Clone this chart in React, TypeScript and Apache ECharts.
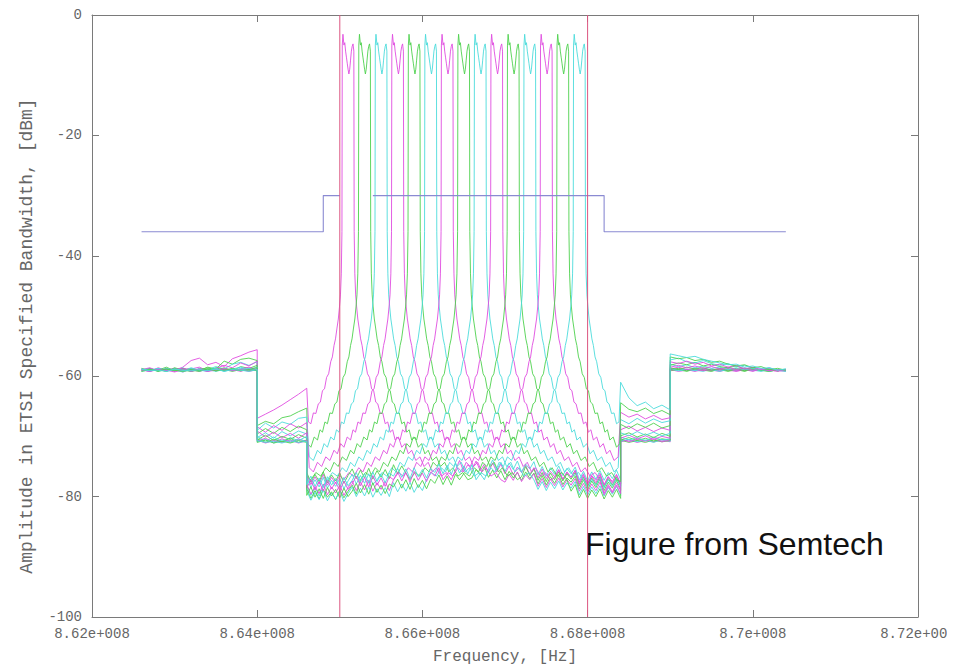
import React, { useEffect, useRef } from 'react';
import * as echarts from 'echarts';

// ---- Channels (MHz) ----
const channelCenters = [865.1, 865.3, 865.5, 865.7, 865.9, 866.1, 866.3, 866.5, 866.7, 866.9, 867.1, 867.3, 867.5, 867.7, 867.9];
const traceColors = ['#e04ee0', '#4fd24f', '#4cdcdc'];

// in-band top shape: offset from channel centre (MHz) and level (dBm)
const topOffsets = [-0.07, -0.062, -0.05, -0.04, -0.03, -0.02, -0.01, 0, 0.01, 0.02, 0.03, 0.04, 0.05, 0.06, 0.07];
const topLevels = [-5, -3.2, -5, -4.6, -6, -7, -8, -9, -9.8, -9, -7.5, -6, -5.2, -4.8, -6];

// skirt: distance from channel edge (MHz) and level (dBm)
const skirtDist = [0.004, 0.012, 0.022, 0.034, 0.048, 0.064, 0.082, 0.1, 0.12, 0.14, 0.165, 0.19, 0.215, 0.24, 0.265, 0.29, 0.32, 0.35, 0.38, 0.41, 0.44, 0.47, 0.5, 0.54, 0.58, 0.62, 0.66, 0.7, 0.75, 0.8, 0.85, 0.9, 0.95, 1.0, 1.06, 1.12, 1.18];
const skirtLevels = [-36, -43, -46.5, -48.5, -50.5, -52, -53.8, -54.9, -56.8, -57.6, -59.6, -60.2, -62.1, -62.4, -64.3, -64.6, -66.2, -66.1, -67.9, -67.6, -69.3, -68.9, -70.6, -70.1, -71.8, -71.2, -72.9, -72.3, -74.0, -73.4, -75.0, -74.3, -75.9, -75.2, -76.6, -76.0, -77.2];

// frequency grids (MHz)
const sideL1Freqs = [862.6, 862.7, 862.8, 862.9, 863.0, 863.1, 863.2, 863.3, 863.4, 863.5, 863.6, 863.7, 863.8, 863.9, 864.0];
const sideL2Freqs = [864.0, 864.1, 864.2, 864.3, 864.4, 864.5, 864.6];
const bandFreqs = [
  864.6, 864.65, 864.7, 864.75, 864.8, 864.85, 864.9, 864.95, 865.0, 865.05, 865.1,
  865.15, 865.2, 865.25, 865.3, 865.35, 865.4, 865.45, 865.5, 865.55, 865.6,
  865.65, 865.7, 865.75, 865.8, 865.85, 865.9, 865.95, 866.0, 866.05, 866.1,
  866.15, 866.2, 866.25, 866.3, 866.35, 866.4, 866.45, 866.5, 866.55, 866.6, 866.65, 866.7, 866.75, 866.8, 866.85,
  866.9, 866.95, 867.0, 867.05, 867.1, 867.15, 867.2, 867.25, 867.3, 867.35,
  867.4, 867.45, 867.5, 867.55, 867.6, 867.65, 867.7, 867.75, 867.8, 867.85,
  867.9, 867.95, 868.0, 868.05, 868.1, 868.15, 868.2, 868.25, 868.3, 868.35, 868.4,
];
const sideR2Freqs = [868.4, 868.5, 868.6, 868.7, 868.8, 868.9, 869.0];
const sideR1Freqs = [869.0, 869.1, 869.2, 869.3, 869.4, 869.5, 869.6, 869.7, 869.8, 869.9, 870.0, 870.1, 870.2, 870.3, 870.4];

const sideL1 = [
  [-58.9, -58.6, -59.1, -58.7, -59.0, -58.5, -57.4, -57.0, -58.1, -57.7, -58.4, -57.1, -56.6, -56.0, -55.6],
  [-58.7, -59.1, -58.8, -59.2, -58.6, -59.0, -58.7, -59.1, -58.5, -58.8, -57.5, -58.0, -57.2, -57.0, -57.4],
  [-59.0, -58.7, -59.2, -58.8, -59.1, -58.6, -59.2, -58.7, -58.9, -58.4, -58.8, -58.0, -57.7, -58.2, -57.6],
  [-58.8, -59.2, -58.6, -59.0, -58.7, -59.3, -58.8, -58.5, -59.1, -58.7, -58.2, -58.6, -57.8, -58.3, -57.5],
  [-59.1, -58.8, -59.0, -58.5, -59.1, -58.8, -59.2, -58.9, -58.6, -59.0, -58.6, -59.1, -58.4, -58.7, -58.2],
  [-58.9, -59.2, -58.7, -59.0, -58.8, -59.1, -58.6, -59.0, -59.2, -58.7, -59.1, -58.8, -58.5, -58.9, -58.5],
  [-59.0, -58.7, -59.1, -58.8, -59.2, -58.7, -58.9, -59.2, -58.8, -59.1, -58.7, -59.0, -58.8, -58.5, -58.9],
  [-58.8, -59.1, -58.9, -59.2, -58.7, -59.0, -59.2, -58.8, -59.1, -58.6, -59.0, -58.7, -59.1, -58.8, -58.6],
  [-59.2, -58.9, -59.1, -58.7, -59.0, -59.3, -58.8, -59.1, -58.9, -59.2, -58.8, -59.1, -58.7, -59.0, -58.8],
  [-58.9, -59.2, -58.8, -59.1, -58.9, -58.7, -59.2, -58.9, -59.2, -58.8, -59.1, -58.9, -59.2, -58.8, -59.0],
  [-59.1, -58.8, -59.2, -58.9, -59.1, -58.8, -59.0, -59.2, -58.8, -59.1, -58.9, -59.2, -58.9, -59.1, -58.8],
  [-58.8, -59.0, -58.7, -59.2, -58.9, -59.1, -58.8, -59.1, -59.0, -58.7, -59.2, -58.8, -59.0, -58.7, -59.1],
  [-59.0, -59.2, -58.9, -59.0, -59.3, -58.9, -59.1, -58.8, -59.2, -59.0, -58.8, -59.1, -58.9, -59.2, -58.9],
  [-59.2, -58.9, -59.1, -58.8, -59.0, -59.2, -58.9, -59.1, -58.8, -59.1, -59.0, -58.8, -59.1, -58.9, -59.1],
  [-58.9, -59.1, -59.0, -59.2, -58.8, -59.0, -59.1, -58.9, -59.1, -58.8, -59.2, -58.9, -59.0, -59.2, -58.9],
];

const sideL2 = [
  [-67.0, -66.3, -65.6, -64.8, -63.9, -63.0, -62.0],
  [-68.2, -67.5, -67.9, -66.9, -66.6, -65.9, -65.3],
  [-69.0, -67.8, -68.6, -67.6, -68.0, -67.0, -66.8],
  [-68.4, -69.3, -68.2, -69.0, -67.9, -68.6, -67.7],
  [-69.6, -68.7, -69.5, -68.5, -69.2, -68.3, -68.9],
  [-70.2, -69.4, -70.3, -69.2, -69.9, -69.1, -69.6],
  [-69.1, -70.1, -69.3, -70.2, -69.5, -70.3, -69.4],
  [-70.6, -69.8, -70.7, -70.0, -70.5, -69.7, -70.3],
  [-70.0, -70.8, -70.1, -70.9, -70.2, -70.7, -70.0],
  [-70.8, -70.3, -71.0, -70.4, -70.9, -70.5, -70.8],
  [-70.4, -71.0, -70.5, -70.9, -70.3, -71.0, -70.6],
  [-70.9, -70.5, -71.1, -70.6, -71.0, -70.4, -70.9],
  [-70.6, -71.1, -70.7, -71.0, -70.6, -71.1, -70.7],
  [-71.0, -70.6, -71.1, -70.8, -71.1, -70.7, -71.0],
  [-70.7, -71.0, -70.8, -71.1, -70.7, -71.0, -70.8],
];

// noise floor inside 864.6-868.4 MHz, one row per trace, on bandFreqs
const bandFloor = [
  [-76.2, -77.9, -76.8, -78.1, -76.5, -77.6, -76.1, -77.8, -77.0, -78.2, -76.4,
   -75.5, -77.3, -76.0, -77.5, -75.9, -76.8, -75.3, -77.1, -76.2, -77.4,
   -74.8, -76.5, -75.2, -76.7, -74.6, -76.1, -75.0, -76.4, -74.9, -76.3,
   -74.2, -75.8, -74.5, -76.0, -74.3, -75.6, -74.0, -75.9, -74.7, -75.5, -74.1, -75.7, -74.6, -76.0, -74.4,
   -75.9, -74.6, -76.2, -74.9, -76.4, -75.1, -76.0, -74.8, -76.3, -75.2,
   -76.9, -75.4, -77.0, -75.8, -76.7, -75.5, -77.2, -76.0, -76.8, -75.6,
   -77.6, -76.2, -77.8, -76.5, -77.3, -76.1, -78.0, -76.7, -77.5, -76.3, -77.9],
  [-77.1, -78.9, -77.6, -78.5, -77.0, -79.1, -77.8, -78.6, -77.3, -79.0, -77.9,
   -76.5, -78.3, -77.0, -78.1, -76.6, -77.9, -76.8, -78.4, -76.9, -77.7,
   -75.8, -77.4, -76.0, -77.6, -75.7, -77.1, -76.2, -77.5, -75.9, -77.0,
   -75.2, -76.8, -75.4, -76.9, -75.1, -76.6, -75.6, -76.7, -75.3, -76.9, -75.5, -76.4, -75.0, -76.8, -75.6,
   -76.9, -75.7, -77.2, -75.8, -76.9, -76.0, -77.3, -75.9, -77.0, -76.1,
   -77.9, -76.5, -78.1, -76.7, -77.8, -76.4, -78.0, -76.9, -77.6, -76.6,
   -78.7, -77.2, -78.9, -77.4, -78.5, -77.1, -79.0, -77.6, -78.6, -77.3, -78.8],
  [-75.6, -77.3, -76.0, -77.2, -75.4, -76.9, -75.8, -77.5, -76.1, -76.8, -75.5,
   -75.0, -76.7, -75.3, -76.5, -74.9, -76.2, -75.4, -76.8, -75.1, -76.4,
   -74.3, -75.9, -74.6, -75.8, -74.2, -75.6, -74.8, -76.0, -74.5, -75.7,
   -73.7, -75.2, -73.9, -75.4, -73.6, -75.1, -74.0, -75.3, -73.8, -75.0, -73.5, -75.2, -74.1, -75.4, -73.9,
   -75.6, -74.3, -75.8, -74.4, -75.5, -74.1, -75.9, -74.6, -75.4, -74.2,
   -76.4, -75.0, -76.6, -75.2, -76.3, -74.9, -76.5, -75.3, -76.2, -75.1,
   -77.2, -75.8, -77.4, -75.9, -77.1, -75.7, -77.3, -76.0, -77.0, -75.6, -77.2],
  [-77.8, -79.4, -78.1, -79.6, -77.9, -79.2, -78.4, -79.5, -77.7, -79.3, -78.2,
   -77.2, -78.6, -77.5, -78.9, -77.0, -78.7, -77.4, -78.5, -77.1, -78.8,
   -76.4, -77.9, -76.6, -78.0, -76.3, -77.8, -76.7, -77.6, -76.2, -77.9,
   -75.8, -77.2, -76.0, -77.4, -75.7, -77.1, -76.1, -77.3, -75.9, -77.0, -75.6, -77.3, -76.0, -77.2, -75.8,
   -77.4, -76.1, -77.6, -76.3, -77.3, -75.9, -77.5, -76.4, -77.2, -76.2,
   -78.3, -77.0, -78.5, -77.1, -78.2, -76.9, -78.4, -77.2, -78.1, -77.0,
   -79.1, -77.8, -79.3, -77.9, -79.0, -77.6, -79.4, -78.0, -79.2, -77.7, -79.0],
  [-76.7, -78.3, -77.0, -78.4, -76.6, -78.1, -77.2, -78.5, -76.8, -78.2, -77.1,
   -76.1, -77.7, -76.3, -77.6, -76.0, -77.8, -76.4, -77.5, -76.2, -77.4,
   -75.4, -76.9, -75.6, -76.8, -75.3, -77.0, -75.7, -76.7, -75.2, -76.9,
   -74.8, -76.3, -75.0, -76.2, -74.7, -76.4, -75.1, -76.1, -74.9, -76.3, -74.6, -76.2, -75.0, -76.4, -74.8,
   -76.5, -75.2, -76.6, -75.1, -76.4, -75.3, -76.7, -75.0, -76.5, -75.4,
   -77.3, -76.0, -77.5, -76.1, -77.2, -75.9, -77.4, -76.2, -77.1, -76.0,
   -78.2, -76.8, -78.3, -76.9, -78.0, -76.7, -78.4, -77.0, -78.1, -76.8, -78.2],
  [-78.2, -79.8, -78.5, -79.9, -78.3, -79.6, -78.7, -80.0, -78.4, -79.7, -78.6,
   -77.6, -79.1, -77.9, -79.2, -77.5, -79.0, -77.8, -79.3, -77.6, -78.9,
   -76.9, -78.3, -77.1, -78.4, -76.8, -78.2, -77.2, -78.5, -76.9, -78.1,
   -76.3, -77.8, -76.5, -77.7, -76.2, -77.9, -76.6, -77.6, -76.4, -77.8, -76.1, -77.7, -76.5, -77.9, -76.3,
   -77.9, -76.7, -78.1, -76.6, -77.8, -76.8, -78.2, -76.5, -77.9, -76.9,
   -78.8, -77.5, -79.0, -77.6, -78.7, -77.4, -78.9, -77.7, -78.6, -77.5,
   -79.7, -78.3, -79.8, -78.4, -79.5, -78.2, -79.9, -78.5, -79.6, -78.3, -79.8],
  [-76.4, -78.0, -76.7, -77.9, -76.3, -78.1, -76.8, -77.8, -76.5, -78.2, -76.9,
   -75.8, -77.4, -76.0, -77.3, -75.7, -77.5, -76.1, -77.2, -75.9, -77.4,
   -75.1, -76.6, -75.3, -76.5, -75.0, -76.7, -75.4, -76.4, -74.9, -76.6,
   -74.5, -76.0, -74.7, -75.9, -74.4, -76.1, -74.8, -75.8, -74.6, -76.0, -74.3, -75.9, -74.7, -76.1, -74.5,
   -76.2, -74.9, -76.3, -74.8, -76.1, -75.0, -76.4, -74.7, -76.2, -75.1,
   -77.0, -75.7, -77.2, -75.8, -76.9, -75.6, -77.1, -75.9, -76.8, -75.7,
   -77.9, -76.5, -78.0, -76.6, -77.7, -76.4, -78.1, -76.7, -77.8, -76.5, -77.9],
  [-78.7, -80.3, -79.0, -80.4, -78.8, -80.1, -79.2, -80.5, -78.9, -80.2, -79.1,
   -78.1, -79.6, -78.4, -79.7, -78.0, -79.5, -78.3, -79.8, -78.1, -79.4,
   -77.4, -78.8, -77.6, -78.9, -77.3, -78.7, -77.7, -79.0, -77.4, -78.6,
   -76.8, -78.3, -77.0, -78.2, -76.7, -78.4, -77.1, -78.1, -76.9, -78.3, -76.6, -78.2, -77.0, -78.4, -76.8,
   -78.4, -77.2, -78.6, -77.1, -78.3, -77.3, -78.7, -77.0, -78.4, -77.4,
   -79.3, -78.0, -79.5, -78.1, -79.2, -77.9, -79.4, -78.2, -79.1, -78.0,
   -80.2, -78.8, -80.3, -78.9, -80.0, -78.7, -80.4, -79.0, -80.1, -78.8, -80.3],
  [-76.9, -78.5, -77.2, -78.4, -76.8, -78.6, -77.3, -78.3, -77.0, -78.7, -77.4,
   -76.3, -77.9, -76.5, -77.8, -76.2, -78.0, -76.6, -77.7, -76.4, -77.9,
   -75.6, -77.1, -75.8, -77.0, -75.5, -77.2, -75.9, -76.9, -75.4, -77.1,
   -75.0, -76.5, -75.2, -76.4, -74.9, -76.6, -75.3, -76.3, -75.1, -76.5, -74.8, -76.4, -75.2, -76.6, -75.0,
   -76.7, -75.4, -76.8, -75.3, -76.6, -75.5, -76.9, -75.2, -76.7, -75.6,
   -77.5, -76.2, -77.7, -76.3, -77.4, -76.1, -77.6, -76.4, -77.3, -76.2,
   -78.4, -77.0, -78.5, -77.1, -78.2, -76.9, -78.6, -77.2, -78.3, -77.0, -78.4],
  [-78.0, -79.6, -78.3, -79.5, -77.9, -79.7, -78.4, -79.4, -78.1, -79.8, -78.5,
   -77.4, -79.0, -77.6, -78.9, -77.3, -79.1, -77.7, -78.8, -77.5, -79.0,
   -76.7, -78.2, -76.9, -78.1, -76.6, -78.3, -77.0, -78.0, -76.5, -78.2,
   -76.1, -77.6, -76.3, -77.5, -76.0, -77.7, -76.4, -77.4, -76.2, -77.6, -75.9, -77.5, -76.3, -77.7, -76.1,
   -77.8, -76.5, -77.9, -76.4, -77.7, -76.6, -78.0, -76.3, -77.8, -76.7,
   -78.6, -77.3, -78.8, -77.4, -78.5, -77.2, -78.7, -77.5, -78.4, -77.3,
   -79.5, -78.1, -79.6, -78.2, -79.3, -78.0, -79.7, -78.3, -79.4, -78.1, -79.5],
  [-76.0, -77.6, -76.3, -77.5, -75.9, -77.7, -76.4, -77.4, -76.1, -77.8, -76.5,
   -75.4, -77.0, -75.6, -76.9, -75.3, -77.1, -75.7, -76.8, -75.5, -77.0,
   -74.7, -76.2, -74.9, -76.1, -74.6, -76.3, -75.0, -76.0, -74.5, -76.2,
   -74.1, -75.6, -74.3, -75.5, -74.0, -75.7, -74.4, -75.4, -74.2, -75.6, -73.9, -75.5, -74.3, -75.7, -74.1,
   -75.8, -74.5, -75.9, -74.4, -75.7, -74.6, -76.0, -74.3, -75.8, -74.7,
   -76.6, -75.3, -76.8, -75.4, -76.5, -75.2, -76.7, -75.5, -76.4, -75.3,
   -77.5, -76.1, -77.6, -76.2, -77.3, -76.0, -77.7, -76.3, -77.4, -76.1, -77.5],
  [-79.0, -80.6, -79.3, -80.5, -78.9, -80.7, -79.4, -80.4, -79.1, -80.8, -79.5,
   -78.4, -80.0, -78.6, -79.9, -78.3, -80.1, -78.7, -79.8, -78.5, -80.0,
   -77.7, -79.2, -77.9, -79.1, -77.6, -79.3, -78.0, -79.0, -77.5, -79.2,
   -77.1, -78.6, -77.3, -78.5, -77.0, -78.7, -77.4, -78.4, -77.2, -78.6, -76.9, -78.5, -77.3, -78.7, -77.1,
   -78.8, -77.5, -78.9, -77.4, -78.7, -77.6, -79.0, -77.3, -78.8, -77.7,
   -79.6, -78.3, -79.8, -78.4, -79.5, -78.2, -79.7, -78.5, -79.4, -78.3,
   -80.5, -79.1, -80.6, -79.2, -80.3, -79.0, -80.7, -79.3, -80.4, -79.1, -80.5],
  [-78.6, -77.2, -78.9, -77.5, -79.1, -77.3, -78.7, -77.6, -79.0, -77.4, -78.8,
   -77.9, -76.6, -78.2, -76.8, -78.4, -76.5, -78.1, -76.9, -78.3, -76.7,
   -77.2, -75.9, -77.4, -76.0, -77.6, -75.8, -77.3, -76.1, -77.5, -75.9,
   -76.6, -75.2, -76.8, -75.4, -76.9, -75.1, -76.7, -75.5, -76.8, -75.3, -76.6, -75.0, -76.9, -75.4, -76.7,
   -75.8, -77.1, -75.6, -77.2, -75.9, -77.0, -75.7, -77.3, -76.0, -77.1,
   -76.5, -77.9, -76.3, -78.0, -76.6, -77.8, -76.4, -78.1, -76.7, -77.9,
   -77.3, -78.7, -77.1, -78.8, -77.4, -78.6, -77.2, -78.9, -77.5, -78.7, -77.3],
  [-79.8, -78.4, -80.1, -78.7, -80.3, -78.5, -79.9, -78.8, -80.2, -78.6, -80.0,
   -79.1, -77.8, -79.4, -78.0, -79.6, -77.7, -79.3, -78.1, -79.5, -77.9,
   -78.4, -77.1, -78.6, -77.2, -78.8, -77.0, -78.5, -77.3, -78.7, -77.1,
   -77.8, -76.4, -78.0, -76.6, -78.1, -76.3, -77.9, -76.7, -78.0, -76.5, -77.8, -76.2, -78.1, -76.6, -77.9,
   -77.0, -78.3, -76.8, -78.4, -77.1, -78.2, -76.9, -78.5, -77.2, -78.3,
   -77.7, -79.1, -77.5, -79.2, -77.8, -79.0, -77.6, -79.3, -77.9, -79.1,
   -78.5, -79.9, -78.3, -80.0, -78.6, -79.8, -78.4, -80.1, -78.7, -79.9, -78.5],
  [-78.0, -76.6, -78.3, -76.9, -78.5, -76.7, -78.1, -77.0, -78.4, -76.8, -78.2,
   -77.3, -76.0, -77.6, -76.2, -77.8, -75.9, -77.5, -76.3, -77.7, -76.1,
   -76.6, -75.3, -76.8, -75.4, -77.0, -75.2, -76.7, -75.5, -76.9, -75.3,
   -76.0, -74.6, -76.2, -74.8, -76.3, -74.5, -76.1, -74.9, -76.2, -74.7, -76.0, -74.4, -76.3, -74.8, -76.1,
   -75.2, -76.5, -75.0, -76.6, -75.3, -76.4, -75.1, -76.7, -75.4, -76.5,
   -75.9, -77.3, -75.7, -77.4, -76.0, -77.2, -75.8, -77.5, -76.1, -77.3,
   -76.7, -78.1, -76.5, -78.2, -76.8, -78.0, -76.6, -78.3, -76.9, -78.1, -76.7],
];

const sideR2 = [
  [-70.9, -70.6, -71.0, -70.7, -70.9, -70.6, -70.9],
  [-70.6, -71.0, -70.7, -71.0, -70.6, -70.9, -70.7],
  [-70.8, -70.5, -70.9, -70.6, -71.0, -70.5, -70.8],
  [-70.4, -70.9, -70.5, -70.8, -70.4, -70.9, -70.6],
  [-70.6, -70.2, -70.7, -70.3, -70.8, -70.4, -70.6],
  [-70.1, -70.6, -70.2, -70.7, -70.1, -70.6, -70.4],
  [-70.3, -69.8, -70.4, -69.9, -70.5, -70.0, -70.3],
  [-69.9, -69.4, -70.1, -69.6, -70.2, -69.5, -70.0],
  [-69.4, -69.9, -69.2, -69.8, -69.3, -69.9, -69.5],
  [-68.9, -68.3, -69.1, -68.5, -69.2, -68.6, -69.0],
  [-68.0, -68.7, -67.9, -68.5, -67.8, -68.6, -68.2],
  [-67.2, -67.9, -67.0, -67.8, -67.1, -67.7, -67.4],
  [-66.0, -66.8, -66.3, -67.1, -66.5, -67.2, -66.9],
  [-64.4, -65.5, -65.9, -65.3, -66.2, -65.7, -66.4],
  [-61.0, -63.6, -64.9, -64.3, -65.4, -64.8, -65.6],
];

const sideR1 = [
  [-58.9, -59.2, -59.0, -59.1, -58.8, -59.0, -59.2, -58.9, -59.1, -59.0, -58.8, -59.1, -59.0, -59.2, -59.0],
  [-59.1, -58.9, -59.2, -58.8, -59.0, -59.1, -58.9, -59.2, -58.9, -59.1, -58.9, -59.0, -59.2, -58.9, -59.1],
  [-58.8, -59.1, -58.9, -59.0, -59.2, -58.8, -59.1, -58.9, -59.1, -58.8, -59.0, -59.2, -58.9, -59.0, -58.8],
  [-59.0, -58.8, -58.9, -59.2, -58.9, -59.1, -58.8, -59.0, -59.2, -58.9, -59.1, -58.8, -59.1, -59.0, -59.2],
  [-58.9, -58.7, -59.1, -58.8, -59.0, -59.2, -58.8, -59.1, -58.9, -59.2, -58.8, -59.0, -58.9, -59.1, -58.9],
  [-58.7, -59.0, -58.8, -59.1, -58.7, -58.9, -59.2, -58.8, -59.0, -58.7, -59.1, -58.9, -59.2, -58.9, -59.1],
  [-58.8, -58.5, -58.9, -58.7, -59.1, -58.8, -59.0, -58.7, -59.1, -58.9, -59.2, -58.8, -59.0, -59.1, -58.9],
  [-58.6, -58.9, -58.5, -58.8, -58.6, -59.0, -58.7, -58.9, -58.7, -59.1, -58.8, -59.0, -59.2, -58.9, -59.0],
  [-58.0, -58.4, -58.1, -58.6, -58.3, -58.7, -58.5, -58.9, -58.6, -58.9, -58.7, -59.1, -58.8, -59.0, -59.1],
  [-58.5, -58.2, -58.6, -58.3, -58.7, -58.4, -58.8, -58.5, -58.9, -58.6, -59.0, -58.8, -59.1, -58.9, -59.0],
  [-58.2, -57.8, -58.1, -57.7, -58.3, -58.0, -58.4, -58.6, -58.3, -58.8, -58.6, -59.0, -58.8, -59.1, -58.9],
  [-57.3, -57.0, -57.6, -57.8, -57.4, -57.9, -58.2, -57.9, -58.4, -58.2, -58.7, -58.9, -58.6, -59.0, -59.2],
  [-57.6, -57.9, -57.5, -58.0, -57.7, -58.3, -58.0, -58.5, -58.2, -58.8, -58.5, -58.9, -58.7, -59.1, -58.9],
  [-56.8, -57.1, -56.9, -57.4, -57.2, -57.7, -57.5, -58.0, -58.3, -58.1, -58.6, -58.4, -58.9, -58.7, -59.0],
  [-56.3, -56.6, -56.9, -56.7, -57.2, -57.5, -57.8, -58.1, -58.0, -58.5, -58.3, -58.7, -58.6, -59.0, -58.8],
];

// ETSI mask (MHz, dBm); null = gap
const maskFreqs = [862.6, 864.8, 864.8, 865.0, 865.2, 865.4, 868.2, 868.2, 870.4];
const maskLevels = [-36, -36, -30, -30, null, -30, -30, -36, -36];

// sub-band limit markers (MHz)
const limitFreqs = [865.0, 868.0];

const BAND_LO = 864.6;
const BAND_HI = 868.4;
const HALF_W = 0.07;
const EPS = 1e-6;

function buildTrace(i: number): number[][] {
  const pts: number[][] = [];
  sideL1Freqs.forEach((f, j) => pts.push([f, sideL1[i][j]]));
  sideL2Freqs.forEach((f, j) => pts.push([f, sideL2[i][j]]));
  const c = channelCenters[i];
  const lo = c - HALF_W;
  const hi = c + HALF_W;
  const reach = skirtDist[skirtDist.length - 1];
  bandFreqs.forEach((f, j) => {
    if (f < lo - reach - EPS) pts.push([f, bandFloor[i][j]]);
  });
  for (let k = skirtDist.length - 1; k >= 0; k--) {
    const f = lo - skirtDist[k];
    if (f >= BAND_LO - EPS) pts.push([f, skirtLevels[k]]);
  }
  topOffsets.forEach((o, k) => pts.push([c + o, topLevels[k]]));
  for (let k = 0; k < skirtDist.length; k++) {
    const f = hi + skirtDist[k];
    if (f <= BAND_HI + EPS) pts.push([f, skirtLevels[k]]);
  }
  bandFreqs.forEach((f, j) => {
    if (f > hi + reach + EPS) pts.push([f, bandFloor[i][j]]);
  });
  sideR2Freqs.forEach((f, j) => pts.push([f, sideR2[i][j]]));
  sideR1Freqs.forEach((f, j) => pts.push([f, sideR1[i][j]]));
  return pts;
}

const MONO = "'Liberation Mono', 'DejaVu Sans Mono', monospace";
const AXIS_COLOR = '#7a7a7a';
const TEXT_COLOR = '#666666';

function fmtFreq(v: number) {
  return String(parseFloat((v / 100).toFixed(4))) + 'e+008';
}

export default function App() {
  const ref = useRef<HTMLDivElement | null>(null);
  useEffect(() => {
    if (!ref.current) return;
    const chart = echarts.init(ref.current, null, { renderer: 'svg' });

    const traceSeries = channelCenters.map((c, i) => ({
      type: 'line',
      name: 'ch' + (i + 1),
      data: buildTrace(i),
      showSymbol: false,
      symbol: 'none',
      silent: true,
      lineStyle: { width: 1, color: traceColors[i % 3], opacity: 0.9 },
      z: 2,
    }));

    const maskSeries = {
      type: 'line',
      name: 'mask',
      data: maskFreqs.map((f, k) => [f, maskLevels[k]]),
      connectNulls: false,
      showSymbol: false,
      symbol: 'none',
      silent: true,
      lineStyle: { width: 1.1, color: '#8a8ad2' },
      z: 3,
    };

    const limitSeries = limitFreqs.map((f) => ({
      type: 'line',
      data: [[f, -100], [f, 0]],
      showSymbol: false,
      symbol: 'none',
      silent: true,
      lineStyle: { width: 1, color: '#dc5580' },
      z: 4,
    }));

    const xCommon = {
      type: 'value',
      min: 862,
      max: 872,
      interval: 2,
      splitLine: { show: false },
      axisLine: { show: true, onZero: false, lineStyle: { color: AXIS_COLOR, width: 1 } },
      axisTick: { show: true, inside: true, length: 7, lineStyle: { color: AXIS_COLOR } },
    };
    const yCommon = {
      type: 'value',
      min: -100,
      max: 0,
      interval: 20,
      splitLine: { show: false },
      axisLine: { show: true, onZero: false, lineStyle: { color: AXIS_COLOR, width: 1 } },
      axisTick: { show: true, inside: true, length: 7, lineStyle: { color: AXIS_COLOR } },
    };

    chart.setOption({
      animation: false,
      backgroundColor: '#ffffff',
      grid: { left: 92, right: 46, top: 15, bottom: 51, containLabel: false, outerBoundsMode: 'none' },
      xAxis: [
        {
          ...xCommon,
          position: 'bottom',
          name: 'Frequency, [Hz]',
          nameLocation: 'middle',
          nameGap: 32,
          nameTextStyle: { fontFamily: MONO, fontSize: 16, color: TEXT_COLOR },
          axisLabel: { formatter: fmtFreq, fontFamily: MONO, fontSize: 14, color: TEXT_COLOR, margin: 10 },
        },
        { ...xCommon, position: 'top', axisLabel: { show: false } },
      ],
      yAxis: [
        {
          ...yCommon,
          position: 'left',
          axisLabel: { fontFamily: MONO, fontSize: 14, color: TEXT_COLOR, margin: 10 },
        },
        { ...yCommon, position: 'right', axisLabel: { show: false } },
      ],
      graphic: [
        {
          type: 'text',
          x: 27,
          y: 336,
          rotation: Math.PI / 2,
          silent: true,
          style: {
            text: 'Amplitude in ETSI Specified Bandwidth, [dBm]',
            fontFamily: MONO,
            fontSize: 18,
            fill: TEXT_COLOR,
            align: 'center',
            verticalAlign: 'middle',
          },
        },
        {
          type: 'text',
          left: 585,
          top: 528,
          silent: true,
          style: {
            text: 'Figure from Semtech',
            fontFamily: "'Liberation Sans', Arial, sans-serif",
            fontSize: 32,
            fill: '#111111',
          },
        },
      ],
      series: [...traceSeries, maskSeries, ...limitSeries],
    });

    return () => chart.dispose();
  }, []);

  return (
    <div style={{ position: 'absolute', left: 0, top: 0, width: 947, height: 668, overflow: 'hidden', background: '#ffffff' }}>
      <div ref={ref} style={{ width: 964, height: 668 }} />
    </div>
  );
}
